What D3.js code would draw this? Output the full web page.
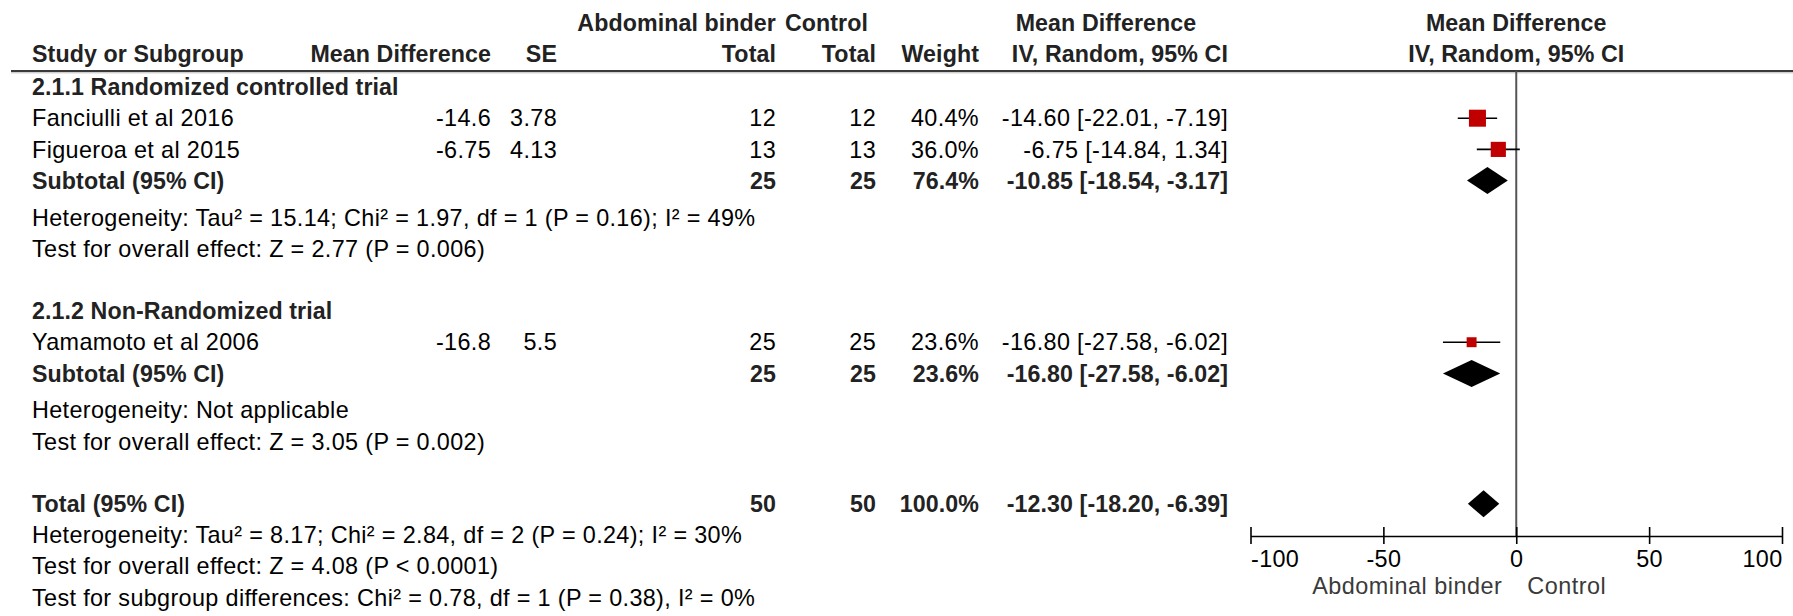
<!DOCTYPE html>
<html><head><meta charset="utf-8">
<script src="https://cdn.jsdelivr.net/npm/d3@7"></script>
<style>
html,body{margin:0;padding:0;background:#fff;}
svg{display:block;}
text{font-family:"Liberation Sans",Arial,sans-serif;font-size:23px;}
.reg{fill:#000;font-size:23.4px;letter-spacing:0.35px;}
.bold{fill:#222;font-weight:bold;font-size:23.2px;letter-spacing:0.1px;}
.fav{fill:#3a3a3a;font-size:23.4px;letter-spacing:0.5px;}
</style></head><body>
<svg id="chart" width="1793" height="616"></svg>
<script>
// ---------------- data ----------------
const groupTitles = ["2.1.1 Randomized controlled trial", "2.1.2 Non-Randomized trial"];
const studyNames = ["Fanciulli et al 2016", "Figueroa et al 2015", "Yamamoto et al 2006"];
const studyGroup = [0, 0, 1];
const studyMD = [-14.6, -6.75, -16.8];
const studySE = [3.78, 4.13, 5.5];
const studyTotalBinder = [12, 13, 25];
const studyTotalControl = [12, 13, 25];
const studyWeight = [40.4, 36.0, 23.6];
const studyEst = [-14.60, -6.75, -16.80];
const studyLow = [-22.01, -14.84, -27.58];
const studyHigh = [-7.19, 1.34, -6.02];

const subtotalBinder = [25, 25];
const subtotalControl = [25, 25];
const subtotalWeight = [76.4, 23.6];
const subtotalEst = [-10.85, -16.80];
const subtotalLow = [-18.54, -27.58];
const subtotalHigh = [-3.17, -6.02];
const subtotalHet = ["Heterogeneity: Tau\u00b2 = 15.14; Chi\u00b2 = 1.97, df = 1 (P = 0.16); I\u00b2 = 49%",
                     "Heterogeneity: Not applicable"];
const subtotalTest = ["Test for overall effect: Z = 2.77 (P = 0.006)",
                      "Test for overall effect: Z = 3.05 (P = 0.002)"];

const totalBinder = 50;
const totalControl = 50;
const totalWeight = 100.0;
const totalEst = -12.30;
const totalLow = -18.20;
const totalHigh = -6.39;
const totalNotes = ["Heterogeneity: Tau\u00b2 = 8.17; Chi\u00b2 = 2.84, df = 2 (P = 0.24); I\u00b2 = 30%",
                    "Test for overall effect: Z = 4.08 (P < 0.0001)",
                    "Test for subgroup differences: Chi\u00b2 = 0.78, df = 1 (P = 0.38), I\u00b2 = 0%"];

const axisTicks = [-100, -50, 0, 50, 100];
const favourLabels = ["Abdominal binder", "Control"];

// ---------------- layout ----------------
const svg = d3.select("#chart");
const W = 1793;
const col = {name: 32, md: 491, se: 557, tb: 776, tc: 876, w: 979, ci: 1228};
const head1Y = 23, head2Y = 54, ruleY = 71, axisY = 536;

const x = d3.scaleLinear().domain([-100, 100]).range([1250.5, 1782]);
const sizeScale = d3.scaleLinear().domain([0, 40.4]).range([0, 17]);
const fmt2 = v => v.toFixed(2);
const ciText = (e, l, h) => `${fmt2(e)} [${fmt2(l)}, ${fmt2(h)}]`;
const wText = w => w.toFixed(1) + "%";

// build rows
const rows = [];
groupTitles.forEach((g, gi) => {
  rows.push({kind: "title", text: g});
  studyNames.forEach((n, i) => {
    if (studyGroup[i] !== gi) return;
    rows.push({kind: "study", name: n, md: String(studyMD[i]), se: String(studySE[i]),
      tb: studyTotalBinder[i], tc: studyTotalControl[i], w: studyWeight[i],
      est: studyEst[i], low: studyLow[i], high: studyHigh[i]});
  });
  rows.push({kind: "subtotal", name: "Subtotal (95% CI)", tb: subtotalBinder[gi], tc: subtotalControl[gi],
    w: subtotalWeight[gi], est: subtotalEst[gi], low: subtotalLow[gi], high: subtotalHigh[gi]});
  rows.push({kind: "note", text: subtotalHet[gi]});
  rows.push({kind: "note", text: subtotalTest[gi]});
  rows.push({kind: "blank"});
});
rows.push({kind: "total", name: "Total (95% CI)", tb: totalBinder, tc: totalControl, w: totalWeight,
  est: totalEst, low: totalLow, high: totalHigh});
totalNotes.forEach(t => rows.push({kind: "note", text: t}));

let slot = 0;
rows.forEach(r => { r.slot = slot; slot += 1 + (r.kind === "subtotal" ? 0.18 : 0); });
const y = d3.scaleLinear().domain([0, 1]).range([87, 118.2]);

function txt(xp, yp, s, cls, anchor) {
  svg.append("text").attr("x", xp).attr("y", yp).attr("dy", "0.35em")
    .attr("class", cls).attr("text-anchor", anchor || "start").text(s);
}

// headers
txt(col.tb, head1Y, "Abdominal binder", "bold", "end");
txt(868, head1Y, "Control", "bold", "end");
txt(1106, head1Y, "Mean Difference", "bold", "middle");
txt(x(0), head1Y, "Mean Difference", "bold", "middle");
txt(col.name, head2Y, "Study or Subgroup", "bold", "start");
txt(col.md, head2Y, "Mean Difference", "bold", "end");
txt(col.se, head2Y, "SE", "bold", "end");
txt(col.tb, head2Y, "Total", "bold", "end");
txt(col.tc, head2Y, "Total", "bold", "end");
txt(col.w, head2Y, "Weight", "bold", "end");
txt(col.ci, head2Y, "IV, Random, 95% CI", "bold", "end");
txt(x(0), head2Y, "IV, Random, 95% CI", "bold", "middle");

// rule
svg.append("line").attr("x1", 11).attr("x2", W).attr("y1", ruleY).attr("y2", ruleY)
  .attr("stroke", "#3a3a3a").attr("stroke-width", 2.2);
svg.append("line").attr("x1", 11).attr("x2", W).attr("y1", ruleY + 1.8).attr("y2", ruleY + 1.8)
  .attr("stroke", "#aaa").attr("stroke-width", 0.8);

// zero line
svg.append("line").attr("x1", x(0)).attr("x2", x(0)).attr("y1", ruleY).attr("y2", axisY)
  .attr("stroke", "#555").attr("stroke-width", 2);

// rows
rows.forEach(r => {
  const yy = y(r.slot);
  if (r.kind === "title") txt(col.name, yy, r.text, "bold");
  else if (r.kind === "note") txt(col.name, yy, r.text, "reg");
  else if (r.kind === "study") {
    txt(col.name, yy, r.name, "reg");
    txt(col.md, yy, r.md, "reg", "end");
    txt(col.se, yy, r.se, "reg", "end");
    txt(col.tb, yy, r.tb, "reg", "end");
    txt(col.tc, yy, r.tc, "reg", "end");
    txt(col.w, yy, wText(r.w), "reg", "end");
    txt(col.ci, yy, ciText(r.est, r.low, r.high), "reg", "end");
    svg.append("line").attr("x1", x(r.low)).attr("x2", x(r.high)).attr("y1", yy).attr("y2", yy)
      .attr("stroke", "#000").attr("stroke-width", 1.6);
    const s = sizeScale(r.w);
    svg.append("rect").attr("x", x(r.est) - s / 2).attr("y", yy - s / 2)
      .attr("width", s).attr("height", s).attr("fill", "#c00000");
  } else if (r.kind === "subtotal" || r.kind === "total") {
    txt(col.name, yy, r.name, "bold");
    txt(col.tb, yy, r.tb, "bold", "end");
    txt(col.tc, yy, r.tc, "bold", "end");
    txt(col.w, yy, wText(r.w), "bold", "end");
    txt(col.ci, yy, ciText(r.est, r.low, r.high), "bold", "end");
    const h = 13.5;
    const pts = [[x(r.low), yy], [x(r.est), yy - h], [x(r.high), yy], [x(r.est), yy + h]];
    svg.append("path").attr("d", d3.line()(pts) + "Z").attr("fill", "#000");
  }
});

// axis
const ax = svg.append("g").attr("transform", `translate(0,${axisY})`)
  .call(d3.axisBottom(x).tickValues(axisTicks).tickSizeInner(8).tickSizeOuter(0).tickPadding(6)
    .tickFormat(d => String(d)));
ax.select(".domain").attr("stroke", "#000").attr("stroke-width", 1.6);
ax.selectAll(".tick line").attr("y1", -9).attr("y2", 8).attr("stroke", "#000").attr("stroke-width", 1.6);
ax.selectAll(".tick text").attr("font-size", null).attr("font-family", null)
  .attr("class", "reg")
  .attr("text-anchor", (d, i) => i === 0 ? "start" : (i === axisTicks.length - 1 ? "end" : "middle"));
ax.attr("font-size", null).attr("font-family", null);

// favour labels
svg.append("text").attr("x", x(0) - 14).attr("y", 586).attr("dy", "0.35em")
  .attr("class", "fav").attr("text-anchor", "end").text(favourLabels[0]);
svg.append("text").attr("x", x(0) + 11).attr("y", 586).attr("dy", "0.35em")
  .attr("class", "fav").attr("text-anchor", "start").text(favourLabels[1]);
</script>
</body></html>
